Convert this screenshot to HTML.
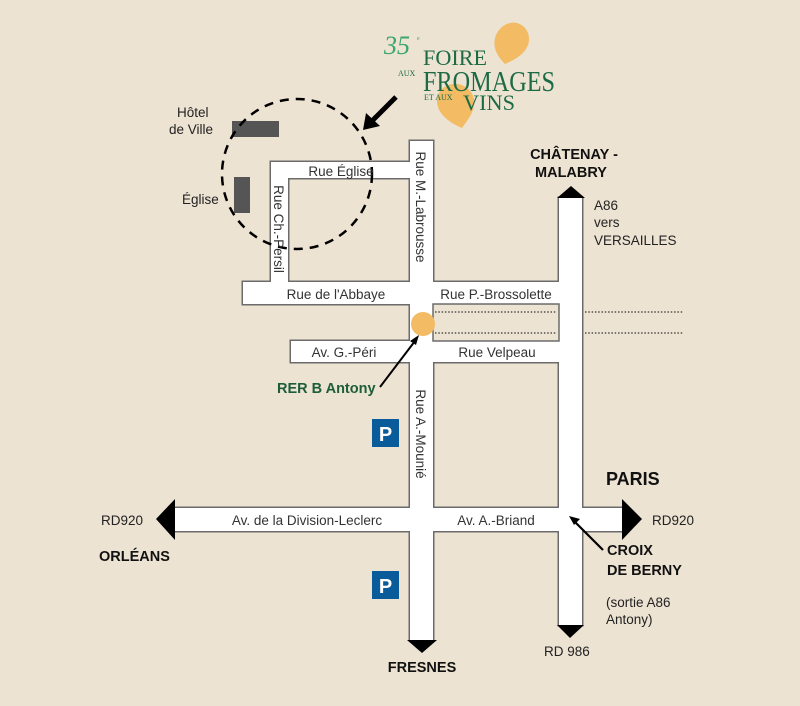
<!DOCTYPE html>
<html><head><meta charset="utf-8"><style>
html,body{margin:0;padding:0;background:#ede3d3;}
svg{display:block}
.s{font-family:"Liberation Sans",sans-serif;}
.lg{font-family:"Liberation Serif",serif;}
</style></head><body>
<svg width="800" height="706" viewBox="0 0 800 706" xmlns="http://www.w3.org/2000/svg">
<rect width="800" height="706" fill="#ede3d3"/>
<g fill="#fff" stroke="#6b6b6b" stroke-width="3">
<rect x="410" y="141" width="23" height="499"/>
<rect x="559" y="198" width="23" height="427"/>
<rect x="271" y="162" width="140" height="16"/>
<rect x="271" y="162" width="17" height="122"/>
<rect x="243" y="282" width="317" height="22"/>
<rect x="291" y="341" width="269" height="21"/>
<rect x="175" y="508" width="447" height="23"/>
</g>
<g fill="#fff">
<rect x="410" y="141" width="23" height="499"/>
<rect x="559" y="198" width="23" height="427"/>
<rect x="271" y="162" width="140" height="16"/>
<rect x="271" y="162" width="17" height="122"/>
<rect x="243" y="282" width="317" height="22"/>
<rect x="291" y="341" width="269" height="21"/>
<rect x="175" y="508" width="447" height="23"/>
<rect x="433" y="304" width="126" height="37" fill="#ede3d3" stroke="#6b6b6b" stroke-width="1.5"/>
</g>
<g stroke="#333" stroke-width="1.3" stroke-dasharray="1.5,1.8">
<line x1="435" y1="312" x2="556" y2="312"/><line x1="435" y1="333" x2="556" y2="333"/>
<line x1="585" y1="312" x2="683" y2="312"/><line x1="585" y1="333" x2="683" y2="333"/>
</g>
<g fill="#000">
<polygon points="557,198 585,198 571,186"/>
<polygon points="175,499 175,540 156,519"/>
<polygon points="622,499 622,540 642,519"/>
<polygon points="407,640 437,640 422,653"/>
<polygon points="557,625 584,625 570,638"/>
</g>
<rect x="232" y="121" width="47" height="16" fill="#555"/>
<rect x="234" y="177" width="16" height="36" fill="#555"/>
<circle cx="297" cy="174" r="75" fill="none" stroke="#000" stroke-width="2.5" stroke-dasharray="9,7"/>
<line x1="396" y1="97" x2="372" y2="121" stroke="#000" stroke-width="5"/>
<polygon points="363,130 366,113 380,126" fill="#000"/>
<circle cx="423" cy="324" r="12" fill="#f2bb64"/>
<line x1="380" y1="387" x2="415" y2="341" stroke="#000" stroke-width="2"/>
<polygon points="419,335 410,341 416,345" fill="#000"/>
<line x1="603" y1="550" x2="575" y2="522" stroke="#000" stroke-width="2.2"/>
<polygon points="569,516 580,519 574,525" fill="#000"/>
<rect x="372" y="419" width="27" height="28" fill="#0a5b9a"/>
<text class="s" x="385.5" y="441" font-size="20" font-weight="bold" fill="#fff" text-anchor="middle">P</text>
<rect x="372" y="571" width="27" height="28" fill="#0a5b9a"/>
<text class="s" x="385.5" y="593" font-size="20" font-weight="bold" fill="#fff" text-anchor="middle">P</text>
<g class="s" font-size="13.5" fill="#333">
<text x="341" y="176" text-anchor="middle">Rue Église</text>
<text x="336" y="299" text-anchor="middle">Rue de l'Abbaye</text>
<text x="496" y="299" text-anchor="middle">Rue P.-Brossolette</text>
<text x="497" y="357" text-anchor="middle">Rue Velpeau</text>
<text x="344" y="357" text-anchor="middle">Av. G.-Péri</text>
<text x="307" y="525" text-anchor="middle">Av. de la Division-Leclerc</text>
<text x="496" y="525" text-anchor="middle">Av. A.-Briand</text>
<text transform="translate(416,207) rotate(90)" text-anchor="middle">Rue M.-Labrousse</text>
<text transform="translate(416,434) rotate(90)" text-anchor="middle">Rue A.-Mounié</text>
<text transform="translate(274,229) rotate(90)" text-anchor="middle">Rue Ch.-Persil</text>
</g>
<g class="s" font-size="13.5" fill="#222">
<text x="177" y="117">Hôtel</text>
<text x="169" y="134">de Ville</text>
<text x="182" y="204">Église</text>
<text x="594" y="210">A86</text>
<text x="594" y="227">vers</text>
<text x="594" y="245">VERSAILLES</text>
<text x="101" y="525">RD920</text>
<text x="652" y="525">RD920</text>
<text x="544" y="656">RD 986</text>
<text x="606" y="607">(sortie A86</text>
<text x="606" y="624">Antony)</text>
</g>
<g class="s" font-size="14.5" font-weight="bold" fill="#111">
<text x="574" y="159" text-anchor="middle">CHÂTENAY -</text>
<text x="571" y="177" text-anchor="middle">MALABRY</text>
<text x="99" y="561">ORLÉANS</text>
<text x="422" y="672" text-anchor="middle">FRESNES</text>
<text x="607" y="555">CROIX</text>
<text x="607" y="575">DE BERNY</text>
<text x="606" y="485" font-size="18">PARIS</text>
<text x="277" y="393" fill="#1d5e3a">RER B Antony</text>
</g>
<path d="M505,64 C496,55 493,47 495,38 C498,27 508,21 517,23 C527,26 531,36 528,45 C524,55 514,60 505,64 Z" fill="#f2bb64"/>
<path d="M462,128 C448,122 437,113 437,101 C437,90 447,83 457,84 C468,85 476,95 474,106 C472,115 467,121 462,128 Z" fill="#f2bb64"/>
<text class="lg" x="384" y="54" font-style="italic" font-size="26" fill="#3aa56e">35</text>
<text class="lg" x="417" y="40" font-size="6" fill="#3aa56e">e</text>
<text class="lg" x="423" y="65" font-size="22" fill="#1d6b45" textLength="64" lengthAdjust="spacingAndGlyphs">FOIRE</text>
<text class="lg" x="398" y="76" font-size="8" fill="#1d6b45">AUX</text>
<text class="lg" x="423" y="91" font-size="28" fill="#1d6b45" textLength="132" lengthAdjust="spacingAndGlyphs">FROMAGES</text>
<text class="lg" x="424" y="100" font-size="8" fill="#1d6b45">ET AUX</text>
<text class="lg" x="463" y="110" font-size="22" fill="#1d6b45" textLength="52" lengthAdjust="spacingAndGlyphs">VINS</text>
</svg>
</body></html>
